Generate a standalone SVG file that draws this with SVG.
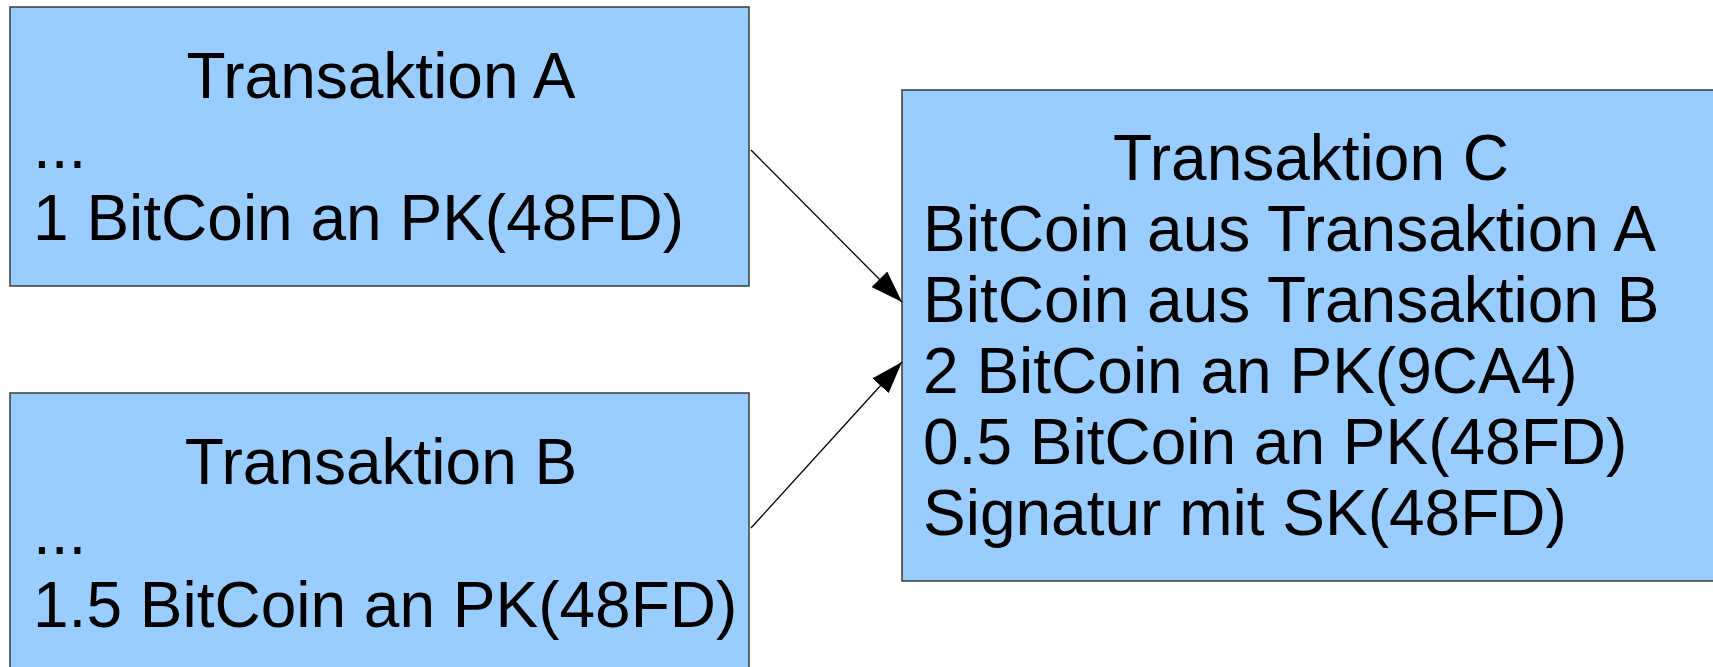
<svg xmlns="http://www.w3.org/2000/svg" width="1713" height="667" viewBox="0 0 1713 667">
<style>
.box{fill:#99ccff;stroke:#3a3a3a;stroke-width:1.5}
.t{font-family:"Liberation Sans",Arial,sans-serif;font-size:64px;fill:#000}
.c{text-anchor:middle}
.conn{stroke:#000;stroke-width:1.3;fill:none}
</style>
<defs>
<marker id="ah" markerWidth="32" markerHeight="22" refX="32" refY="11" orient="auto" markerUnits="userSpaceOnUse">
<path d="M0,0 L32,11 L0,22 Z" fill="#000"/>
</marker>
</defs>
<rect width="1713" height="667" fill="#fff"/>
<g id="nodeA">
<rect class="box" x="10" y="7" width="739" height="279"/>
<text class="t c" x="381" y="98">Transaktion A</text>
<text class="t" x="33" y="168">...</text>
<text class="t" x="33" y="240">1 BitCoin an PK(48FD)</text>
</g>
<g id="nodeB">
<rect class="box" x="10" y="393" width="739" height="290"/>
<text class="t c" x="381" y="484">Transaktion B</text>
<text class="t" x="33" y="554">...</text>
<text class="t" x="33" y="627">1.5 BitCoin an PK(48FD)</text>
</g>
<g id="nodeC">
<rect class="box" x="902" y="90" width="830" height="491"/>
<text class="t c" x="1311" y="180">Transaktion C</text>
<text class="t" x="923" y="251">BitCoin aus Transaktion A</text>
<text class="t" x="923" y="322">BitCoin aus Transaktion B</text>
<text class="t" x="923" y="393">2 BitCoin an PK(9CA4)</text>
<text class="t" x="923" y="464">0.5 BitCoin an PK(48FD)</text>
<text class="t" x="923" y="535">Signatur mit SK(48FD)</text>
</g>
<g id="connectors">
<line class="conn" x1="751" y1="150" x2="902" y2="302" marker-end="url(#ah)"/>
<line class="conn" x1="751" y1="528" x2="902" y2="362" marker-end="url(#ah)"/>
</g>
</svg>
